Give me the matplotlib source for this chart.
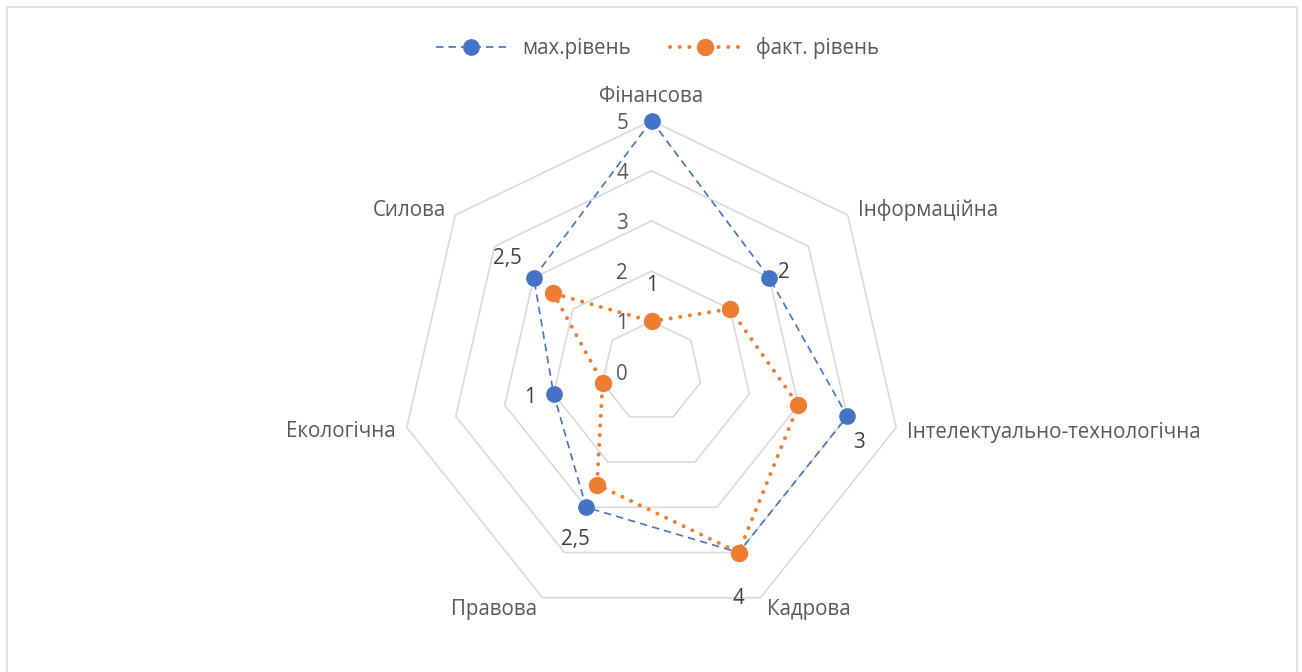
import numpy as np
import matplotlib
matplotlib.use("Agg")
import matplotlib.pyplot as plt
from matplotlib.lines import Line2D
from matplotlib.patches import Rectangle

plt.rcParams['font.family'] = ['Open Sans', 'DejaVu Sans']

categories = ["Фінансова", "Інформаційна", "Інтелектуально-технологічна",
              "Кадрова", "Правова", "Екологічна", "Силова"]
max_level = [5, 3, 4, 4, 3, 2, 3]
fact_level = [1, 2, 3, 4, 2.5, 1, 2.5]
label_texts = ["1", "2", "3", "4", "2,5", "1", "2,5"]
axis_ticks = [0, 1, 2, 3, 4, 5]
series_names = ["мах.рівень", "факт. рівень"]

BLUE = "#4472C4"
ORANGE = "#ED7D31"
GRID = "#D9D9D9"
TXT = "#595959"

W, H, DPI = 1302, 672, 100
fig = plt.figure(figsize=(W / DPI, H / DPI), dpi=DPI)

# calibrate font size so long category label has the reference width
renderer = fig.canvas.get_renderer()
probe = fig.text(0, 0, categories[2], fontsize=10)
wpx = probe.get_window_extent(renderer).width
probe.remove()
FS = 10 * 292.0 / wpx

# chart area border
fig.patches.append(Rectangle((7 / W, -0.05), (1297 - 7) / W, 1 - 7 / H + 0.05,
                             transform=fig.transFigure, fill=False,
                             edgecolor=GRID, linewidth=1.1))

cx, cy, R = 651.5, 371.6, 251.0
ax = fig.add_axes([(cx - R) / W, 1 - (cy + R) / H, 2 * R / W, 2 * R / H],
                  projection='polar')
ax.set_theta_offset(np.pi / 2)
ax.set_theta_direction(-1)
ax.set_ylim(0, 5)
ax.grid(False)
ax.spines['polar'].set_visible(False)
ax.set_xticks([])
ax.set_yticks([])
ax.patch.set_alpha(0)

n = len(categories)
theta = np.arange(n) * 2 * np.pi / n
theta_c = np.append(theta, theta[0])

# heptagon gridlines
for v in axis_ticks[1:]:
    ax.plot(theta_c, [v] * (n + 1), color=GRID, linewidth=1.2, zorder=1,
            clip_on=False)

# series
mx = np.append(max_level, max_level[0])
fc = np.append(fact_level, fact_level[0])
ax.plot(theta_c, mx, color=BLUE, linewidth=1.2, linestyle=(0, (4.5, 3)),
        zorder=3, clip_on=False)
ax.plot(theta, max_level, linestyle='none', marker='o', markersize=11,
        color=BLUE, zorder=4, clip_on=False)
ax.plot(theta_c, fc, color=ORANGE, linewidth=2.9, linestyle=(0, (0.01, 2.4)),
        dash_capstyle='round', zorder=5, clip_on=False)
ax.plot(theta, fact_level, linestyle='none', marker='o', markersize=11.5,
        color=ORANGE, zorder=6, clip_on=False)

# axis value labels
for v in axis_ticks:
    ax.annotate(str(v), xy=(0, v), xytext=(-29.5, -2.5), textcoords='offset pixels',
                ha='center', va='center', fontsize=FS, color=TXT, zorder=7)

# category labels
cat_off = [(0, 24, 'center'), (10, 5, 'left'), (11, -5, 'left'),
           (7, -12, 'left'), (-5.5, -12, 'right'), (-11, -4, 'right'),
           (-9.5, 4.5, 'right')]
for i, c in enumerate(categories):
    dx, dy, ha = cat_off[i]
    ax.annotate(c, xy=(theta[i], 5), xytext=(dx, dy), textcoords='offset pixels',
                ha=ha, va='center', fontsize=FS, color=TXT, annotation_clip=False)

# data labels (values of the actual level)
lab_off = [(1, 36), (54, 37), (61, -37), (0, -46), (-22, -55), (-73, -15),
           (-46, 35)]
for i, t in enumerate(label_texts):
    dx, dy = lab_off[i]
    ax.annotate(t, xy=(theta[i], fact_level[i]), xytext=(dx, dy),
                textcoords='offset pixels', ha='center', va='center',
                fontsize=FS, color="#404040", annotation_clip=False, zorder=8)

# legend
handles = [
    Line2D([0], [0], color=BLUE, linewidth=1.2, linestyle=(0, (4.5, 3)),
           marker='o', markersize=11, markerfacecolor=BLUE, markeredgecolor=BLUE),
    Line2D([0], [0], color=ORANGE, linewidth=2.9, linestyle=(0, (0.01, 2.4)),
           dash_capstyle='round', marker='o', markersize=11.5,
           markerfacecolor=ORANGE, markeredgecolor=ORANGE),
]
leg = fig.legend(handles, series_names, loc='center',
                 bbox_to_anchor=(658 / W, 1 - 48 / H), ncol=2, frameon=False,
                 fontsize=FS, handlelength=3.4, handletextpad=0.8,
                 columnspacing=1.9, numpoints=1, labelcolor=TXT)

fig.savefig("out.png", dpi=DPI, facecolor='white')
